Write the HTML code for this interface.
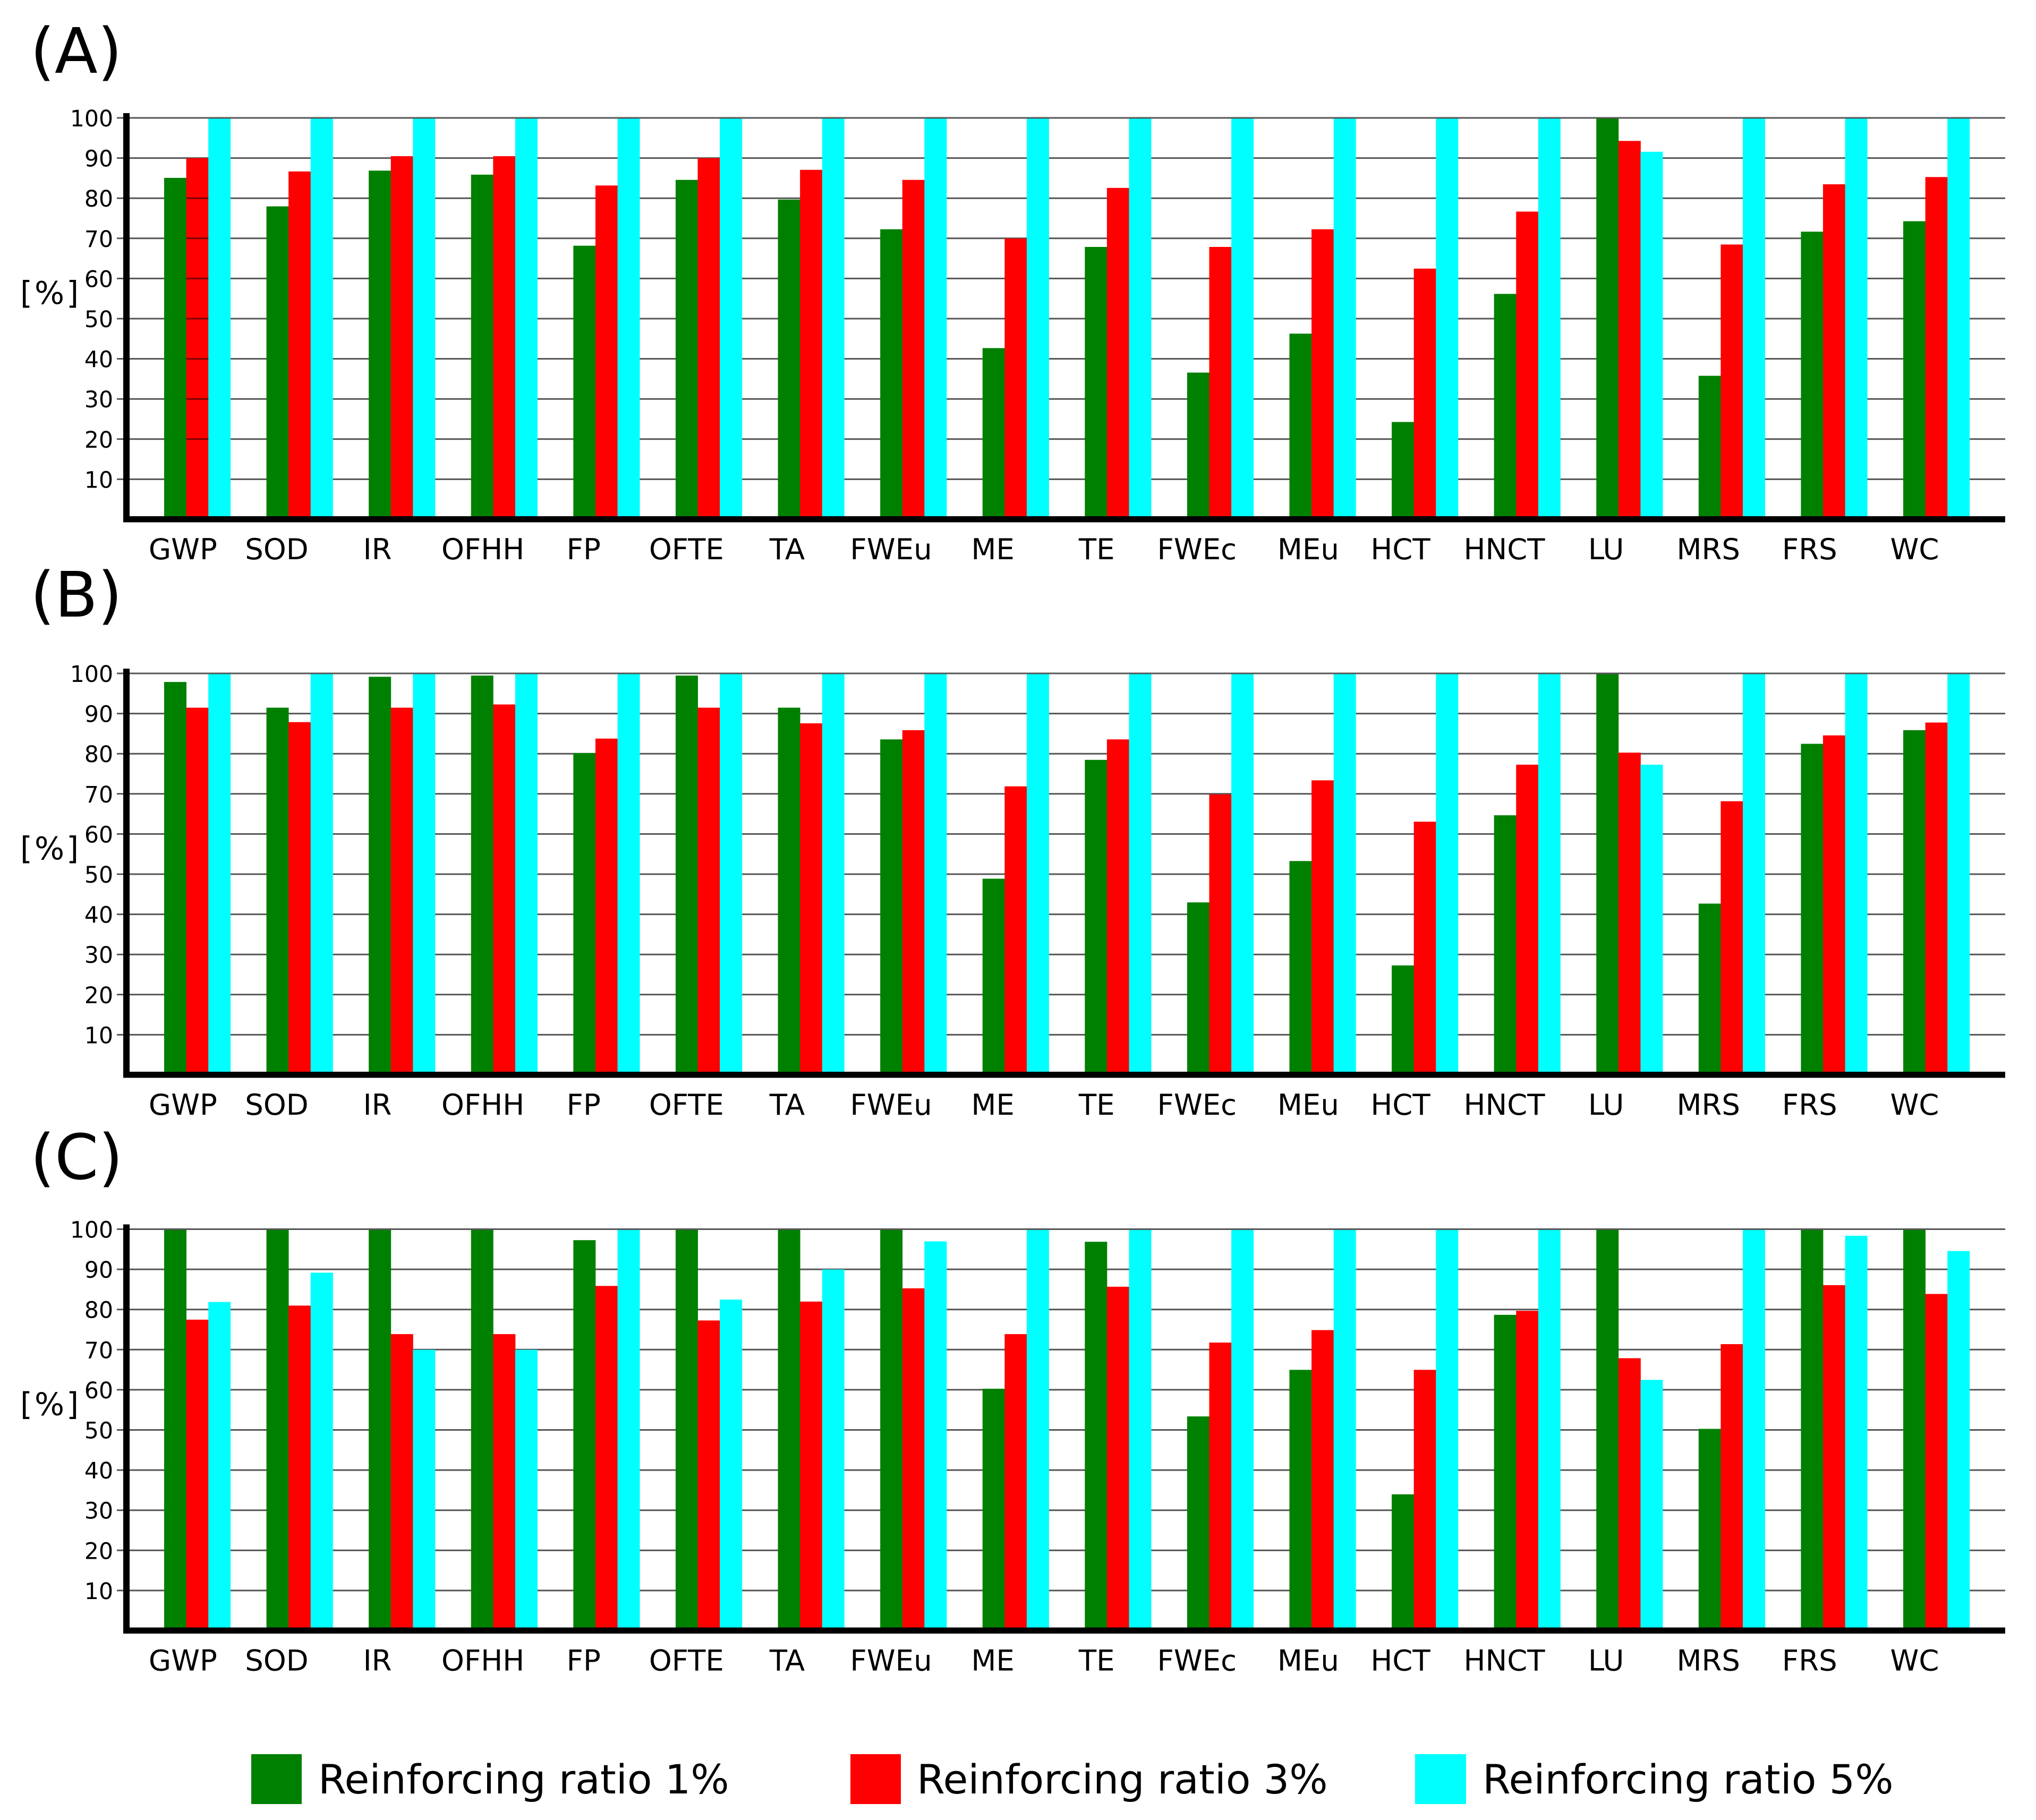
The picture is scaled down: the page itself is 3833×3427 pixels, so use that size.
<!DOCTYPE html>
<html lang="en">
<head>
<meta charset="utf-8">
<title>Reinforcing ratio bar charts</title>
<style>
  html, body { margin: 0; padding: 0; background: #fff; }
  #chart-root { display: block; width: 3833px; height: 3427px; background: #fff; }
  text { font-family: "DejaVu Sans", "Liberation Sans", sans-serif; fill: #000; }
</style>
</head>
<body>
<svg id="chart-root" xmlns="http://www.w3.org/2000/svg" width="3833" height="3427" viewBox="0 0 3833 3427">
  <g id="panels"></g>
  <g>
    <g>
      <rect x="473" y="3303" width="95" height="94" fill="#008000"></rect>
      <text x="599" y="3377" font-size="76.2">Reinforcing ratio 1%</text>
    </g>
    <g>
      <rect x="1601" y="3303" width="95" height="94" fill="#ff0000"></rect>
      <text x="1726" y="3377" font-size="76.2">Reinforcing ratio 3%</text>
    </g>
    <g>
      <rect x="2664" y="3303" width="96" height="94" fill="#00ffff"></rect>
      <text x="2791" y="3377" font-size="76.2">Reinforcing ratio 5%</text>
    </g>
  </g>
</svg>
<script>
// ---- chart data ----
const categories = ["GWP","SOD","IR","OFHH","FP","OFTE","TA","FWEu","ME","TE","FWEc","MEu","HCT","HNCT","LU","MRS","FRS","WC"];
const tickValues = [10,20,30,40,50,60,70,80,90,100];
const tickLabels = ["10","20","30","40","50","60","70","80","90","100"];
const seriesNames = ["ratio-1","ratio-3","ratio-5"];

const panelA_ratio1 = [84.8,77.7,86.6,85.6,67.9,84.3,79.4,72,42.4,67.6,36.3,46,24,55.9,100,35.5,71.4,74];
const panelA_ratio3 = [89.7,86.4,90.2,90.2,82.9,89.7,86.8,84.3,69.7,82.3,67.6,72,62.2,76.4,94,68.2,83.2,85];
const panelA_ratio5 = [100,100,100,100,100,100,100,100,100,100,100,100,100,100,91.3,100,100,100];

const panelB_ratio1 = [97.6,91.2,98.9,99.2,79.9,99.2,91.2,83.3,48.6,78.2,42.7,53,27,64.4,100,42.4,82.2,85.6];
const panelB_ratio3 = [91.2,87.6,91.2,92,83.5,91.2,87.3,85.6,71.6,83.3,69.6,73.1,62.8,77,80,67.9,84.3,87.5];
const panelB_ratio5 = [100,100,100,100,100,100,100,100,100,100,100,100,100,100,77,100,100,100];

const panelC_ratio1 = [100,100,100,100,97,100,100,99.7,60,96.6,53.1,64.7,33.7,78.4,100,50,100,100];
const panelC_ratio3 = [77.2,80.7,73.6,73.6,85.6,77,81.7,85,73.6,85.4,71.5,74.6,64.7,79.4,67.6,71.1,85.8,83.6];
const panelC_ratio5 = [81.6,88.9,69.7,69.7,100,82.2,89.7,96.7,100,100,100,100,100,100,62.2,100,98.1,94.3];

// ---- layout ----
const panelTops = { A: 222, B: 1268, C: 2314.5 };
const panelTitleBaselines = { A: 137, B: 1161, C: 2220 };
const colors = ["#008000", "#ff0000", "#00ffff"];
const firstBarLeft = 309, groupStep = 192.59, barWidth = 41.6;
const pxPerUnit = 7.56, barLift = 2;
const gridLeft = 220, plotRight = 3775;
const labelShift = [-27,-43,-46,-40,-43,-42,-45,-42,-43,-40,-44,-27,-46,-43,-44,-44,-46,-41];

const SVG_NS = "http://www.w3.org/2000/svg";
const panelsRoot = document.getElementById("panels");

function xScale(i) { return firstBarLeft + i * groupStep; }
function yScale(v, top) { return top + (100 - v) * pxPerUnit; }
function make(tag, attrs, parent) {
  const el = document.createElementNS(SVG_NS, tag);
  for (const k in attrs) el.setAttribute(k, attrs[k]);
  parent.appendChild(el);
  return el;
}

function drawPanel(letter, seriesList) {
  const top = panelTops[letter];
  const key = letter.toLowerCase();
  const group = make("g", {}, panelsRoot);
  
  

  const title = make("text", { x: 57, y: panelTitleBaselines[letter], "font-size": 118 }, group);
  title.textContent = "(" + letter + ")";
  
  

  const unit = make("text", { x: 38, y: top + 350, "font-size": 59, "letter-spacing": 4 }, group);
  unit.textContent = "[%]";
  
  

  tickValues.forEach(function (tick, t) {
    const y = yScale(tick, top);
    const line = make("line", { x1: gridLeft, x2: plotRight, y1: y, y2: y, stroke: "#555", "stroke-width": 3 }, group);
    
    
    const label = make("text", { x: 213, y: y + 16, "font-size": 42.5, "text-anchor": "end" }, group);
    label.textContent = tickLabels[t];
    
    
  });

  seriesList.forEach(function (values, s) {
    values.forEach(function (v, i) {
      const x = xScale(i) + s * barWidth;
      const y = yScale(v, top) - barLift;
      const bar = make("rect", { x: x, y: y, width: barWidth + 0.4, height: yScale(0, top) - y, fill: colors[s] }, group);
      
      
    });
  });

  // bars stop just under the 100 line: repaint it and a white sliver above it
  const cover = make("rect", { x: gridLeft, y: top - 6, width: plotRight - gridLeft, height: 5, fill: "#fff" }, group);
  
  
  const topLine = make("line", { x1: gridLeft, x2: plotRight, y1: top, y2: top, stroke: "#555", "stroke-width": 3 }, group);
  
  

  // panel A: the gridlines show through the first red bar
  if (letter === "A") {
    tickValues.forEach(function (tick) {
      if (tick < seriesList[1][0] - 5 && tick >= 20) {
        const y = yScale(tick, top);
        const mark = make("line", { x1: xScale(0) + barWidth, x2: xScale(0) + 2 * barWidth, y1: y, y2: y, stroke: "#700", "stroke-width": 3 }, group);
        
        
      }
    });
  }

  const yAxis = make("rect", { x: 232, y: top - 9, width: 12, height: 770.5, fill: "#000" }, group);
  
  
  const xAxis = make("rect", { x: 232, y: top + 750, width: plotRight - 232, height: 11.5, fill: "#000" }, group);
  
  

  categories.forEach(function (name, i) {
    const cx = xScale(i) + 1.5 * barWidth + labelShift[i];
    const label = make("text", { x: cx, y: top + 831, "font-size": 54.5, "text-anchor": "middle" }, group);
    label.textContent = name;
    
    
  });
}

drawPanel("A", [panelA_ratio1, panelA_ratio3, panelA_ratio5]);
drawPanel("B", [panelB_ratio1, panelB_ratio3, panelB_ratio5]);
drawPanel("C", [panelC_ratio1, panelC_ratio3, panelC_ratio5]);
</script>
</body>
</html>
